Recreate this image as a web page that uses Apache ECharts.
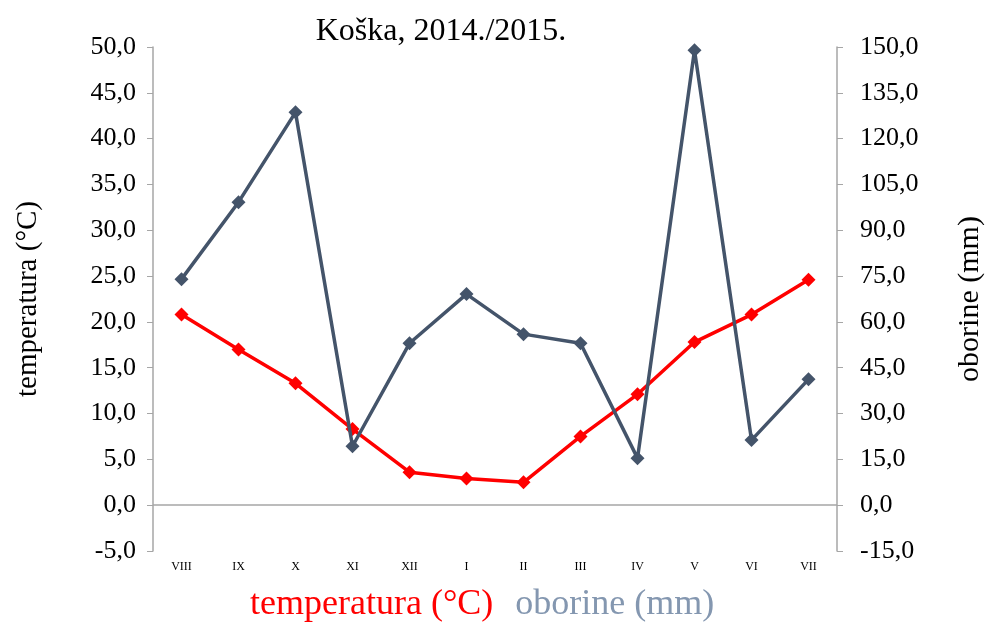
<!DOCTYPE html>
<html>
<head>
<meta charset="utf-8">
<script src="https://cdn.jsdelivr.net/npm/echarts@6/dist/echarts.min.js"></script>
<style>
  html, body { margin: 0; padding: 0; background: #fff; }
  #main { width: 987px; height: 626px; }
</style>
</head>
<body>
<div id="main"></div>
<script>
// mjeseci (hidrološka godina)
var months = ['VIII', 'IX', 'X', 'XI', 'XII', 'I', 'II', 'III', 'IV', 'V', 'VI', 'VII']
// temperatura (°C)
var temperature = [20.8, 17.0, 13.3, 8.3, 3.6, 2.9, 2.5, 7.5, 12.1, 17.8, 20.8, 24.6]
// oborine (mm)
var precipitation = [74.0, 99.2, 128.6, 19.3, 53.0, 69.1, 56.0, 53.0, 15.4, 148.9, 21.3, 41.2]

var font = '"Liberation Serif", "Times New Roman", serif'
var comma = function (v) { return v.toFixed(1).replace('.', ',') }

var chart = echarts.init(document.getElementById('main'))
chart.setOption({
  backgroundColor: '#fff',
  animation: false,
  title: {
    text: 'Koška, 2014./2015.',
    left: 436,
    top: 11,
    textAlign: 'center',
    textStyle: { fontFamily: font, fontSize: 32, fontWeight: 'normal', color: '#000' }
  },
  legend: {
    bottom: -2,
    left: 234,
    icon: 'none',
    itemGap: 11,
    itemWidth: 6,
    textStyle: { fontFamily: font, fontSize: 36 },
    data: [
      { name: 'temperatura (°C)', textStyle: { color: '#ff0000' } },
      { name: 'oborine (mm)', textStyle: { color: '#8497b0' } }
    ]
  },
  grid: { left: 153, right: 150, top: 47, bottom: 75, outerBoundsMode: 'none', containLabel: false },
  xAxis: {
    type: 'category',
    data: months,
    boundaryGap: true,
    axisLine: { show: false },
    axisTick: { show: false },
    axisLabel: { fontFamily: font, fontSize: 12, color: '#000', margin: 10 }
  },
  yAxis: [
    {
      type: 'value',
      name: 'temperatura (°C)',
      nameLocation: 'middle',
      nameGap: 110,
      nameTextStyle: { fontFamily: font, fontSize: 29, color: '#000' },
      min: -5, max: 50, interval: 5,
      axisLine: { show: true, lineStyle: { color: '#a6a6a6', width: 1.5 } },
      axisTick: { show: true, inside: false, length: 6, lineStyle: { color: '#a6a6a6' } },
      splitLine: { show: false },
      axisLabel: { fontFamily: font, fontSize: 26, color: '#000', margin: 17, formatter: comma }
    },
    {
      type: 'value',
      name: 'oborine (mm)',
      nameLocation: 'middle',
      nameGap: 118,
      nameRotate: 90,
      nameTextStyle: { fontFamily: font, fontSize: 30, color: '#000' },
      min: -15, max: 150, interval: 15,
      position: 'right',
      axisLine: { show: true, lineStyle: { color: '#a6a6a6', width: 1.5 } },
      axisTick: { show: true, inside: false, length: 6, lineStyle: { color: '#a6a6a6' } },
      splitLine: { show: false },
      axisLabel: { fontFamily: font, fontSize: 26, color: '#000', margin: 23, formatter: comma }
    }
  ],
  series: [
    {
      name: 'temperatura (°C)',
      type: 'line',
      yAxisIndex: 0,
      data: temperature,
      z: 3,
      color: '#ff0000',
      symbol: 'diamond',
      symbolSize: 14,
      lineStyle: { width: 3.5 },
      markLine: {
        silent: true,
        symbol: 'none',
        label: { show: false },
        lineStyle: { color: '#a6a6a6', width: 1.5, type: 'solid' },
        data: [{ yAxis: 0 }]
      }
    },
    {
      name: 'oborine (mm)',
      type: 'line',
      yAxisIndex: 1,
      data: precipitation,
      z: 4,
      color: '#44546a',
      symbol: 'diamond',
      symbolSize: 14,
      lineStyle: { width: 3.5 }
    }
  ]
})
</script>
</body>
</html>
